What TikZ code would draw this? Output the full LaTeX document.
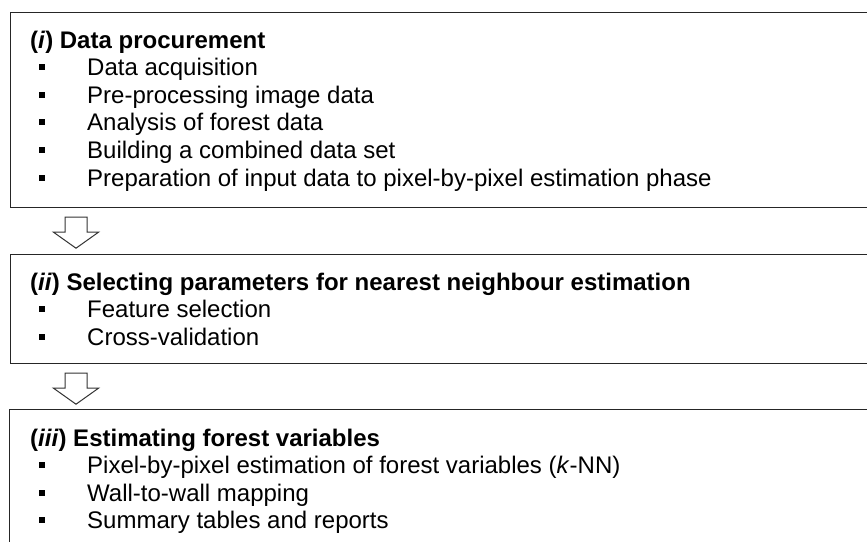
\documentclass[tikz,border=0pt]{standalone}
\usepackage{fontspec}
\setmainfont{Liberation Sans}
\usetikzlibrary{calc}
\begin{document}
\begin{tikzpicture}[x=1pt,y=-1pt,
  box/.style={draw=black!85, line width=1.2pt, anchor=north west, inner sep=0pt, minimum width=880pt},
  ttl/.style={anchor=base west, inner sep=0pt, font=\fontsize{24}{28}\selectfont\bfseries},
  itm/.style={anchor=base west, inner sep=0pt, font=\fontsize{24}{28}\selectfont},
  bul/.style={fill=black, inner sep=0pt, minimum size=6pt},
  blockarr/.style={draw=black!80, line width=1pt, fill=white, line join=miter}]
\fill[white] (0,0) rectangle (867,541);
\useasboundingbox (0,0) rectangle (867,541);
\clip (0,0) rectangle (867,541);
% box 1
\node[box, minimum height=195pt] (b1) at (10,12) {};
\node[ttl] (t1) at (30,48) {(\textit{i}) Data procurement};
\foreach \k/\txt in {1/Data acquisition, 2/Pre-processing image data, 3/Analysis of forest data, 4/Building a combined data set, 5/Preparation of input data to pixel-by-pixel estimation phase}{
  \node[bul] (u1\k) at (42,{48+27.6*\k-8.5}) {};
  \node[itm] (i1\k) at (87,{48+27.6*\k}) {\txt};
}
% box 2
\node[box, minimum height=109pt] (b2) at (10,254) {};
\node[ttl] (t2) at (30,290) {(\textit{ii}) Selecting parameters for nearest neighbour estimation};
\foreach \k/\txt in {1/Feature selection, 2/Cross-validation}{
  \node[bul] (u2\k) at (42,{290+27.6*\k-8.5}) {};
  \node[itm] (i2\k) at (87,{290+27.6*\k}) {\txt};
}
% box 3
\node[box, minimum height=150pt] (b3) at (9,409) {};
\node[ttl] (t3) at (30,446) {(\textit{iii}) Estimating forest variables};
\foreach \k/\txt in {1/{Pixel-by-pixel estimation of forest variables (\textit{k}-NN)}, 2/Wall-to-wall mapping, 3/Summary tables and reports}{
  \node[bul] (u3\k) at (42,{446+27.6*\k-8.5}) {};
  \node[itm] (i3\k) at (87,{446+27.6*\k}) {\txt};
}
% block arrows
\draw[blockarr] ([xshift=55pt,yshift=-9pt]b1.south west) -- ++(22,0) -- ++(0,15) -- ++(11.5,0) -- ++(-22.5,16) -- ++(-22.5,-16) -- ++(11.5,0) -- cycle;
\draw[blockarr] ([xshift=55pt,yshift=-9pt]b2.south west) -- ++(22,0) -- ++(0,15) -- ++(11.5,0) -- ++(-22.5,16) -- ++(-22.5,-16) -- ++(11.5,0) -- cycle;
\end{tikzpicture}
\end{document}
